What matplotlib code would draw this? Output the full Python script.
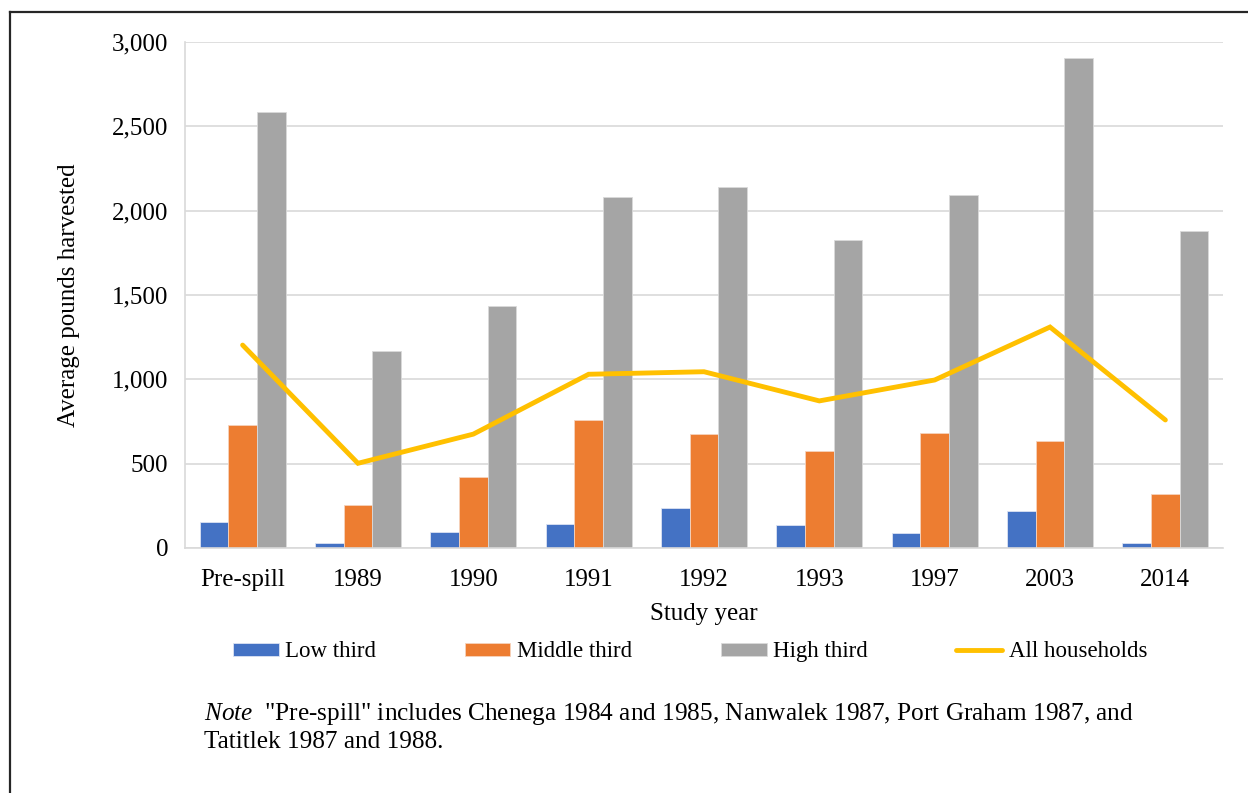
import matplotlib.pyplot as plt
import numpy as np
from matplotlib.lines import Line2D
from matplotlib.ticker import FuncFormatter

plt.rcParams['font.family'] = ['Liberation Serif', 'DejaVu Serif']
plt.rcParams['mathtext.fontset'] = 'custom'
plt.rcParams['mathtext.it'] = 'Liberation Serif:italic'
plt.rcParams['mathtext.rm'] = 'Liberation Serif'

years = ["Pre-spill", "1989", "1990", "1991", "1992", "1993", "1997", "2003", "2014"]
low_third = [152, 30, 95, 140, 239, 134, 91, 219, 30]
middle_third = [727, 257, 421, 761, 674, 575, 684, 634, 318]
high_third = [2585, 1170, 1436, 2082, 2141, 1828, 2093, 2903, 1880]
all_households = [1203, 502, 675, 1030, 1045, 872, 996, 1310, 759]

fig = plt.figure(figsize=(12.48, 7.93), dpi=100)
ax = fig.add_axes([0.1482, 0.309, 0.8318, 0.638])

x = np.arange(len(years))
w = 0.249
b1 = ax.bar(x - w, low_third, w, color="#4472C4", edgecolor="#DCE3F2", linewidth=0.6, label="Low third", zorder=2)
b2 = ax.bar(x, middle_third, w, color="#ED7D31", edgecolor="#F6D3BD", linewidth=0.6, label="Middle third", zorder=2)
b3 = ax.bar(x + w, high_third, w, color="#A5A5A5", edgecolor="#DADADA", linewidth=0.6, label="High third", zorder=2)
ln, = ax.plot(x, all_households, color="#FFC000", linewidth=3.5, solid_capstyle="round",
              solid_joinstyle="miter", label="All households", zorder=3)

ax.set_xlim(-0.5, len(years) - 0.5)
ax.set_ylim(0, 3000)
ax.set_yticks(range(0, 3001, 500))
ax.yaxis.set_major_formatter(FuncFormatter(lambda v, p: f"{int(v):,}"))
ax.set_xticks(x)
ax.set_xticklabels(years)
ax.tick_params(axis="both", length=0, labelsize=18)
ax.tick_params(axis="y", pad=12)
ax.tick_params(axis="x", pad=15)
ax.grid(axis="y", color="#D9D9D9", linewidth=1.2, zorder=0)
ax.set_axisbelow(True)
for s in ["top", "right"]:
    ax.spines[s].set_visible(False)
for s in ["left", "bottom"]:
    ax.spines[s].set_color("#D9D9D9")
    ax.spines[s].set_linewidth(1.2)

ax.set_xlabel("Study year", fontsize=18, labelpad=9)
ax.set_ylabel("Average pounds harvested", fontsize=18, labelpad=23)

fig.legend([b1, b2, b3, ln], ["Low third", "Middle third", "High third", "All households"],
           loc="center", bbox_to_anchor=(0.553, 0.178), ncol=4, frameon=False,
           fontsize=16.5, handlelength=2.0, handleheight=0.5, handletextpad=0.3, columnspacing=3.85)

fig.text(204 / 1248, 1 - 727 / 793,
         '$\\mathit{Note}$  "Pre-spill" includes Chenega 1984 and 1985, Nanwalek 1987, Port Graham 1987, and\n'
         'Tatitlek 1987 and 1988.',
         fontsize=18.2, va="center", linespacing=1.25)

# frame around the figure (only left and top edges fall inside the picture)
fig.add_artist(Line2D([10 / 1248, 10 / 1248], [0, 1 - 12 / 793], color="#262626", linewidth=1.6))
fig.add_artist(Line2D([10 / 1248, 1], [1 - 12 / 793, 1 - 12 / 793], color="#262626", linewidth=1.6))

fig.savefig("out.png", dpi=100)
